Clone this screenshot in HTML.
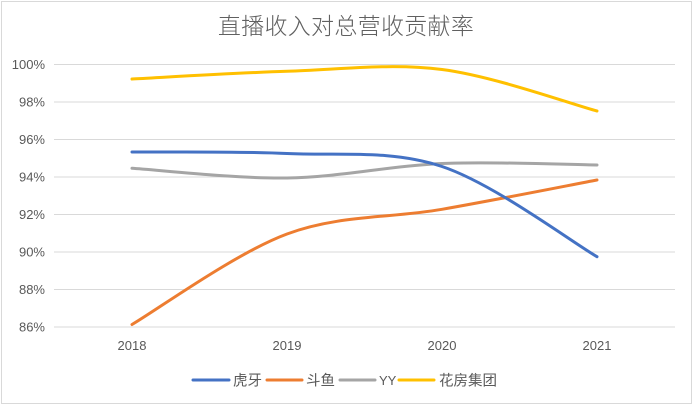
<!DOCTYPE html>
<html>
<head>
<meta charset="utf-8">
<style>
  html, body { margin: 0; padding: 0; background: #fff; }
  svg { display: block; }
  text { font-family: "Liberation Sans", "Noto Sans CJK SC", sans-serif; fill: #595959; }
  .cjk { font-family: "Noto Sans CJK SC", "Liberation Sans", sans-serif; }
  .title { font-weight: 300; fill: #606060; }
</style>
</head>
<body>
<svg width="694" height="405" viewBox="0 0 694 405" xmlns="http://www.w3.org/2000/svg">
  <rect x="0" y="0" width="694" height="405" fill="#fff"/>
  <rect x="1.5" y="1.5" width="690" height="402" fill="none" stroke="#d9d9d9" stroke-width="1"/>

  <!-- Title -->
  <text class="cjk title" x="346" y="34" font-size="23" text-anchor="middle" letter-spacing="0.3">直播收入对总营收贡献率</text>

  <!-- Gridlines -->
  <g stroke="#d9d9d9" stroke-width="1">
    <line x1="54" x2="675" y1="64.5" y2="64.5"/>
    <line x1="54" x2="675" y1="102" y2="102"/>
    <line x1="54" x2="675" y1="139.5" y2="139.5"/>
    <line x1="54" x2="675" y1="177" y2="177"/>
    <line x1="54" x2="675" y1="214.5" y2="214.5"/>
    <line x1="54" x2="675" y1="252" y2="252"/>
    <line x1="54" x2="675" y1="289.5" y2="289.5"/>
    <line x1="54" x2="675" y1="327" y2="327"/>
  </g>

  <!-- Y labels -->
  <g font-size="13" text-anchor="end">
    <text x="45" y="69">100%</text>
    <text x="45" y="106.5">98%</text>
    <text x="45" y="144">96%</text>
    <text x="45" y="181.5">94%</text>
    <text x="45" y="219">92%</text>
    <text x="45" y="256.5">90%</text>
    <text x="45" y="294">88%</text>
    <text x="45" y="331.5">86%</text>
  </g>

  <!-- X labels -->
  <g font-size="13" text-anchor="middle">
    <text x="132" y="350">2018</text>
    <text x="287" y="350">2019</text>
    <text x="442" y="350">2020</text>
    <text x="597" y="350">2021</text>
  </g>

  <!-- Series -->
  <g fill="none" stroke-width="3" stroke-linecap="round" stroke-linejoin="round">
    <!-- 花房集团 -->
    <path stroke="#FFC000" d="M132,79 C157.83,77.72 235.33,72.88 287,71.3 C338.67,69.72 390.33,62.88 442,69.5 C493.67,76.12 571.17,104.08 597,111"/>
    <!-- YY -->
    <path stroke="#A5A5A5" d="M132,168.3 C157.83,169.92 235.33,178.8 287,178 C338.67,177.2 390.33,165.67 442,163.5 C493.67,161.33 571.17,164.75 597,165"/>
    <!-- 斗鱼 -->
    <path stroke="#ED7D31" d="M132,324.5 C157.83,309.42 235.33,253.2 287,234 C338.67,214.8 390.33,218.3 442,209.3 C493.67,200.3 571.17,184.88 597,180"/>
    <!-- 虎牙 -->
    <path stroke="#4472C4" d="M132,152 C157.83,152.25 235.33,151.08 287,153.5 C338.67,155.92 390.33,149.3 442,166.5 C493.67,183.7 571.17,241.67 597,256.7"/>
  </g>

  <!-- Legend -->
  <g stroke-width="3" stroke-linecap="round">
    <line x1="193" x2="229" y1="380" y2="380" stroke="#4472C4"/>
    <line x1="267" x2="302" y1="380" y2="380" stroke="#ED7D31"/>
    <line x1="340" x2="375" y1="380" y2="380" stroke="#A5A5A5"/>
    <line x1="399" x2="434" y1="380" y2="380" stroke="#FFC000"/>
  </g>
  <g font-size="14.5">
    <text class="cjk" x="233" y="385.5">虎牙</text>
    <text class="cjk" x="306" y="385.5">斗鱼</text>
    <text x="379" y="385" font-size="13">YY</text>
    <text class="cjk" x="439" y="385.5">花房集团</text>
  </g>
</svg>
</body>
</html>
